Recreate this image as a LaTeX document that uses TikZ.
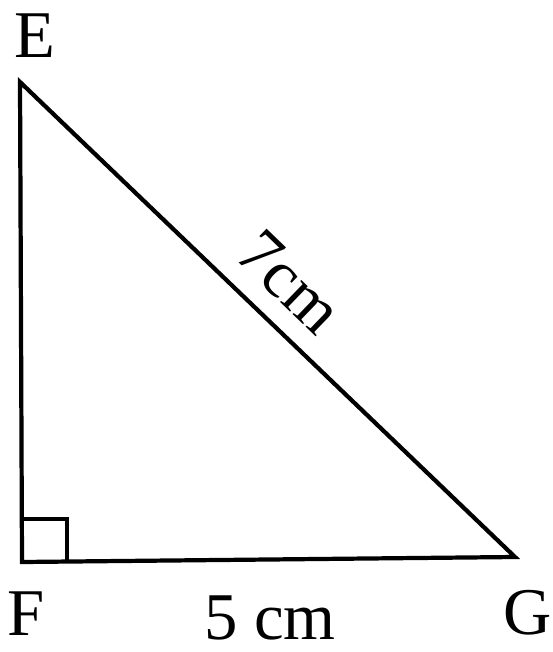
\documentclass[tikz,border=0pt]{standalone}
\usepackage{fontspec}
\setmainfont{Liberation Serif}

\begin{document}
\begin{tikzpicture}[x=0.02cm, y=-0.02cm, line width=2.4pt,
  lbl/.style={font=\fontsize{38}{38}\selectfont, inner sep=0pt}]
  \useasboundingbox (0,0) rectangle (552,652);
  \coordinate (E) at (20,82);
  \coordinate (F) at (22,562);
  \coordinate (G) at (515,557);
  \draw[line join=miter] (E) -- (F) -- (G) -- cycle;
  \draw[line width=1.8pt] (22,519) -- (67,519) -- (67,562);
  \node[lbl] (e) at (35,36) {E};
  \node[lbl] (f) at (26,614) {F};
  \node[lbl] (g) at (528,613) {G};
  \node[lbl] (fg) at (270,618) {5 cm};
  \node[lbl, rotate=-44] (eg) at (290,282) {7cm};
\end{tikzpicture}
\end{document}
